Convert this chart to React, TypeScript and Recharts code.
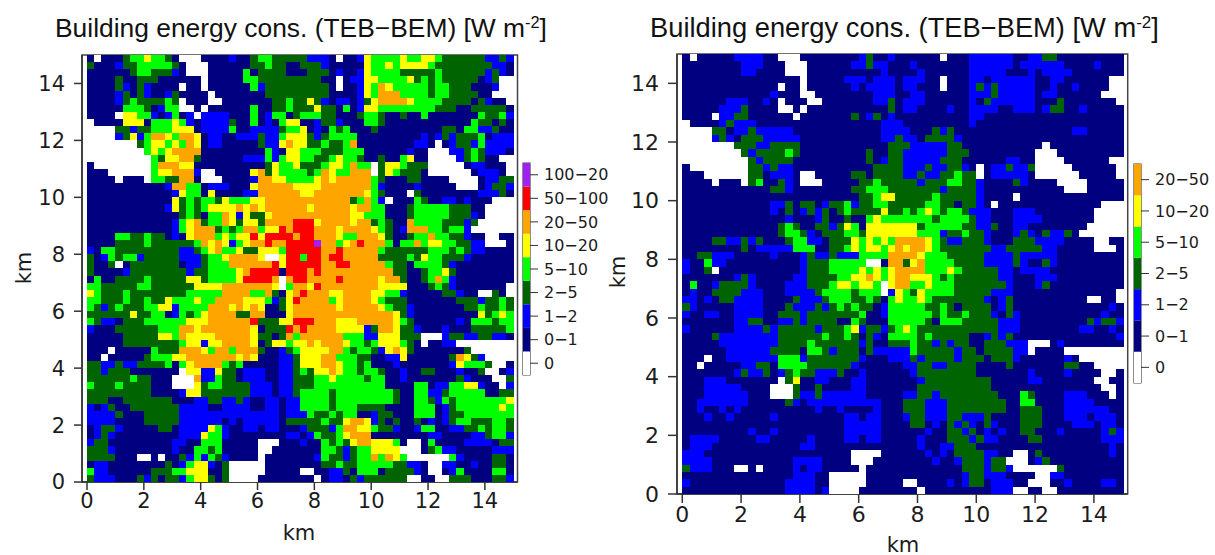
import React from "react";
import { ScatterChart, Scatter, XAxis, YAxis, ReferenceArea, BarChart, Bar } from "recharts";

// class index: 0 white, 1 navy, 2 blue, 3 dark green, 4 lime, 5 yellow, 6 orange, 7 red, 8 purple
const classColors = ["#ffffff", "#000080", "#0000ff", "#006400", "#00ff00", "#ffff00", "#ffa500", "#ff0000", "#a020f0"];
const classLabels = ["0", "0−1", "1−2", "2−5", "5−10", "10−20", "20−50", "50−100", "100−200"];
const axisTicks = [0, 2, 4, 6, 8, 10, 12, 14];

// Left panel, west half (columns 0-29), rows from top (15 km) to bottom (0 km)
const leftWest = [
"1 0 111 3 44 5 44 3 1 000 1111 2 11 3 44 3333",
"3 111 2 33 44444 3 1 000 111111 33 4 33 11",
"111111 3 44 333 2 1 000 11111 4 1 3333 11",
"1111 3 11 333 111111 0 11111 44 333333",
"1111 3 2 1 3 2 1111 0 11 0 111111 4 2 33333",
"1111 2 3 1 3 2 11 2 3 1111 0 1111111 33333",
"1111 2 3 4 3333 4 3 0 111 00 1111111 33 4 3",
"11111 444 3 1 2 44 00 1 0 111111 4 11 33 4 3",
"1111 0 55 44 2 1 2 4 1 2 0 2222 111 4 1 2 44 1 3",
"0 1111 555 1 444 5 4 2 1 2222 3 11 4 1 2 1 4 55",
"0000 33 2 33 444 555 1 2222 4 11 2222 3 44",
"0000 2 3 5 2 4 66 5 4 66 5 1 22 11 222 3 22 4 55",
"0000000 3 4 55 4 5 4 6 5 1 22 11111 3 22 5 6 5",
"00000000 4 5 4 5 6666 111111111 4 2 1 55",
"000000000 4 3 55 66 3 111111 222 4 2 4 55",
"1 00000000 4 666 55 1111111111 3 5 44 5",
"111 000000 4 55 666 2 00 11111 5 6 3 5 444",
"1111 0 111 0 44 33 66 1 000 1111 2 66 55 44",
"11111111111 2 66 44 1 222 111 5 66666 5",
"111111111111 2 5 44 1 5 1111 22 666666",
"111111111111 5 3 4 3 44 3 5 444 55 66666",
"11111111111 2 5 3 4 3 4 5555 6 5 6 5 66666",
"1111111111111 3 4 3 1 44 6 5 2 5 33 5 6666",
"111111111111 2 4 5 6 3 44 6 5 3 55 3 6666 7",
"111111111111 2 4 5 66 6 3 4 3 4 66 4 55 7 6 7",
"1111 44 33 4 33 1 2 1 5 666 4 5 4 55 7 5 7777 6",
"1111 3333 4 333333 4 6 5 6 5 2 4 5 66 7 66 77",
"2 1 44 333333333 22 3 4 5 6 44 5 33 55 5 4 77",
"3 1 2 4 3 44 2 33333 222 3 44 5 6666 5 00 5 77",
"3 11 3 0 1 3333333 1 22 3 444 666666 7 5 77",
"3 1111 2 33333333 2 33 4444 5 6 7777 1 77",
"1 4 11 3333 4 33333 55 3 4444 5 7777 6 0 6 7",
"44 33333 44 333333 5555 6666666 5 0 4 6",
"5 4 333 4 33333333 44444 6666 44 6 3 1 5 6",
"44 333 4 33 4 33 5 444 5 44 6666 555 4 2 3 5 7",
"4 3 2 3 4 333 44 55 2 4444 666 5 6 5 6 5 11 3 5 6",
"333333 5 33 44 1 2 4 3 4 5 6666 33 66 111 5 6",
"4 3 22 1 333 444444 555 666666 7 333 5 5 7",
"2 111 333333 444 66 5 6666666 5 1 33 3 7 6",
"11111 33333 55 4 6 5555 66666 5 33 1 3 6 4",
"11111 33333333 4 55 2 55 6666 5 1 3 55 4 5",
"111 0 11111 4 333 666 5 4 66 4 666 3 11 2 3 4",
"11 0 11111 3 444 55 6666666 5 6 5 111 22 3",
"33 22 3 22 3333 4 1 4 5 6666 4 3 4 11111 22 3",
"33 2 333 1111111 0 55 22 5 33 1 222 11 22 3",
"333333 4 33 111 000 6 22 4 33 1 222 11 22 3",
"4 333 4 3333 111 000 5 3 44 3333 222 1 22 3",
"333333333 1111 2 55 3333333 222 1 22 3",
"333 11 3333333 111 22 33 22 3 2 11 22 1 22",
"2 1 2 3 11 3333333 2222 11 2222 11 22 1 22",
"2222 3 111 33333 22222222222222 1 22",
"2222 1111 33333 222222 1 2 1 22222 1 33",
"1 2 33 2 11111 33 1 2222 5 4 2 11 22 1 22 111",
"1 2 3 2 111111111 222 5 44 2 11111111 22",
"2 33 111111111 22 11 444 11111 000 111",
"333 2 11111111 2 11 44 3 4 11111 00 1111",
"3333 111 00 1 0 11 3 2 4 2 4 3 2 1111 0 11111",
"1 22 11111111 3 1 2 4 55 2 1 3 00000 11111",
"4 22 111111 333 44 555 11 3 00000 11111",
"3 222 111 3 2 3 1 33 2 4 55 3 1 3 0000 111111",
];

// Left panel, east half (columns 30-59)
const leftEast = [
"3 222 1 0 11 2 5 4444 5 44 55 4 333333 22 3 2",
"333 2 11111 5 44 5 4 5555 4 33333333 22 1",
"1 333 1 2 11 2 5 4444 33333 4 333333 2 3 2 1",
"333 11 0 1 22 55 4444 5 3 4 3 4 33333 1 2 3 00",
"3333 1 0 11 2 5 4 6 5 44444 3 44 333 111 2 00",
"3333 1111 2 5 4 666 4444 3 44 3333 11 000",
"3 5 3 2 1 22 1 2 3 5 6666 5 4444 3333 1 3 2 11 0",
"33 5 33 1 4 1 2 55 44444444 333 11 33333 1",
"444 33 111 3 44 3 11 3 11 4 1111111 4 33 4 2",
"11 2 33 2 111 44 3 111111111111 4 33 1 3 1",
"5 1 2 1 4 3 4 111 3 111111111 33 1 44 22 3 11",
"5 3 2 3 4444 111111111 2 1 2 3 2 333 4 1 222",
"5 33 4 33 4 6 11111111 22 1 0 1 2 33 2 4 2222",
"444 333 444 111111 2 11 000 22 3 4 3 222 1",
"44 33 4 5 44 3 11 3 11 4 5 11 0000 2 3 4 3 11 00",
"333 4 55 4 6 44 0 3 55 4 333 00000 1 22 111 0",
"4 3 4 6 5 44 666 0 3 5 4 333 1 000000 1 222 1 0",
"44 5 6 5 66666 4 3 111 33 1111 0000 1 22 33",
"555 6666666 4 2 1111 2 11111 000 1 2 33 2",
"55 6666666 5 4 3 111 0 3 11111111 222 3 1",
"6666666 3 4 6 4 2 0 111 4 3 11 22 1 2 111 000",
"6 5 66666 5 66 44 111 3 44444 333 11 0000",
"6666666 55 444 111 3 44444 333 2 1 0000",
"77 5 6666 5 66 3 4 3 11 6 4444 333 2 3 00000",
"77 666 5 6666 5 4 3 1 2 666 44 3 44 2 000000",
"77 666 5 44 666 5 3 11 3 44 6 44 33 2 11 00 11",
"77 8 66 4 5 6 7 666 4 1 44 6 4 55 44 33 22 000 1",
"777 66 7 66666 4 333333 444 3 4 3 22 1111",
"4 77 6 77 66666 3333 4 3 5 44 333 2 111111",
"777 66 77 66666 4 33 1 4444 3 2 11111111",
"7 6 7 6666666666 33 11 3 44 5 3 11111111",
"7 6666 7 66666 5 66 3 11 3 4 6 4 2 11111111",
"6 5 7 66666666 5555 111 3 4 3 2 1111111 0",
"7 666 55 6666 55 44 2 11111 33 2 11 00 3 1 0",
"6666 4 5 6666 5 4 333 1111111 333 2 33 4 3",
"66666 5 66666 5 4 33 2 1111111 33 4 33 4 3",
"6666666666666 5 3 2 111111111 5 3 4 5 4",
"77 666 555 66666 5 4 3 111111 2 1 444 3 44",
"7 6666 5555 2 3 66 5 33 2 111 2 111 33333 4",
"666666 444 22 555 333 000 2 33 22 33 22 1",
"5 6 5 666 5 44 3 4 555 4 3 1 0 11 22 00000000",
"5555 66 4 3 44 3 2 5 6 5 3 1111111 3 000000",
"555 66 444 33 11 22 5 111111 3 6 5 3 2 0000",
"555 66 5 44 3 4 111 2 1111111 2 5 444 3 00 1",
"4 3 55 6 5 44 3 44 3 11 2 11 33 111 2 11 3 00 1 2",
"33 44 5 4444 3 44 11 2 1111111 3 2 111 00 3",
"33 4444444444 1111 44 1 22 44 55 2 11 0 2",
"4444 3 44444444 3 11 44 22 3 44444 11 33",
"4444 3 44444444 3 11 44 3 2 4 3 4444444 5",
"4444 3 444 3333 1111 444 1 2 3 444444 5 4",
"2 4 33 4 3 44 11 2 33 111 444 1 2 33 4444444",
"333 4 33 5 66 5 2 3 1 3 11 3 1 2 1 2 3 44 333 44 3",
"2 333 2 4 66 55 4 33 2 11 2 44 11 22 33 4 3 44 3",
"1 2 4 33 4 5 666 11111111 22 1111 22 3 44 2",
"2 11 4 3 4 3 5 66 555 4 1 00 1 4 1111 2222 1 33",
"111 44 3 2 3 44 5555 000 1 3 4 22 11111 222",
"11 2 4 33 2 3 44 6 4 6 5 4 000000 4 2 1111 33 1",
"111 33 4 33 44444 33 22 1 00 22 11 2 11 33 1",
"00 11 22 3 1 444 1 3333 2 1 00 1 2 4 1111 44 1",
"11 0 1 22 1 3 2 333333 00 11 00 333 111 33 2",
];

// Right panel, west half
const rightWest = [
"1 0 11111 2222 11 000 11111111 2 3 11 2 1",
"11111111 222 111 000 111111 22 3 22 11",
"11111111 22 1111 000 1111111111 2 11",
"1111111111111111 0 11111 222 1 222 1",
"1111111111111 0 11 0 111111 2 1 2222 1",
"111111111111 2 111 00 11111111 222 1",
"111111 222 11 2 1 0 111 00 1111111 22 3 1",
"11111 222 3 1111 00 1 0 11111111111 3 1",
"1111 0 22 33 111111 0 1111111 3 1 2 3 1 2 1",
"0 1111 2 3 222 11111111111111111 222",
"0000 33 1 22 3 22222 111111111111 222",
"0000 2 3 2 1 333 22222 11111111111 22 3",
"0000000 333 22 3333 111111111111 33",
"00000000 3 2 3333 4 3 111111111 3 11 33",
"000000000 3 2 3333 1111111111 3 1 2 33",
"1 00000000 33 2 3 22 11111111111 3333",
"111 000000 33 1 222 1 00 11111 33 1 3333",
"1111 0 111 0 3 4 11 3 2 1 000 11111 33 4 333",
"111111111111 33 2 11111111 33 444 33",
"111111111111111111111111 33 4 55 3",
"111111111111 22 3 1 33 1 2 33 4 2 33 44 33",
"111111111111 2 1 3 1 2 3 2 3 1 3 4 3333 5 33",
"11111111111111 2 111 2 3 11 3 11 4 5 444",
"1111111111111 3 4 3 11 33 2 3 5 4 1 55555",
"1111111111111 3 44 3 2 1 333 44 3 55555",
"1111 33 22 3 2 3 111 3 44 22 1 333 5 4 5 4 5 4 6",
"11111111 3 1 22222 444 11 33 4 5 4 55 4 5 6",
"11 33 222 11111 2 111 2 3 22 3 222 4444 66",
"2 11 4 22 1111111111 2 333 44444 00 1 66",
"2 11 3 0 11111111111 2 333 4444 5 4 5 4 5 6",
"1111111 2 3 2 11111 22 3333 44 55 6 5 4 5 6",
"1 4 11 2 3333 2 1111 222 333 4 55 4 55 4 0 5 6",
"1 2 11 3333 222 111 2222 3 4444 3 444 0 2 5",
"22 1 2 1 33 2222 1111 3 222 3 444 33 4 3 1 4 5",
"3 2 11111 2222 111 3 222 3 2 3 4 3 4 33 1 2 44",
"2 11 22 11 2222 11 333 2 3333333 4 11 2 44",
"1111111 22 33 11 22 3 2 3333 11 4 3 111 44",
"2 111111 2222 3 2 33333 2 333 4 5 2 33 2 3 4",
"1111 3 22222222 333333 4 33 4 3 1 3 2 1 44",
"11111 22222222 3333 4 333333 2 3 11 33",
"111111 222222 3333 1 44 3 2 333 1 3 2222",
"111 0 11 2222222 444 2 3333333 2 111 22",
"11 0 11111 22 33 1 4444 333333 2 111111",
"1111111 2 3 22 3 1 2 3 4 33 222 3 11 2 11111",
"111 222 1111111 0 3 5 11 22 111 22 11111",
"111 22222 1111 000 3 11 3 1111 22 11111",
"111 222222 111 000 3 22 3 222222 11111",
"11 2222222 11111 3 2 1 2222222222 111",
"11 2 11 2 1 2 1111111111 2 11 2 1111 2 111",
"111 2 11 2 11111 2 111111111 22 1 22 111",
"1111111111111111111111 22222 111",
"111111111 2 11 2 111111111 22222 111",
"1 2222 11111 22 11111 2 1111 22 1 22 111",
"1 222 111111111111 22 111111111111",
"222 11111111111111111111 0000 111",
"2222 11111111111 2222 1111 000 1111",
"3 222 111 00 1 0 1111 2 1 22 11111 0 11111",
"111111111111111 222 11 00000 11111",
"2 1111111111111 2222 11 00000 11111",
"11111111111111 2222 1 2 0000 111111",
];

// Right panel, east half
const rightEast = [
"11111 0 111 222222 11 22 33 111111111",
"1 2 1111111 222222 1 222222 1111 2 111",
"11 2 111111 22222 111 2 1 2222 1111111",
"222 11 0 111 22 1 222222 11 22 111111 00",
"22 111 0 111 2 3 2 3 22222 11 2 11 2 1111 00",
"1 22 111111 222 3 22222 1 22 111111 000",
"222 111111 2 1 3 222222 111 3 1111111 0",
"22 1111 2 11 2222 11 222 1 2 33 11 2 11111",
"111111111 22 1111111111111111111",
"111111111 2 11111111111111111111",
"2 111 3 2 3 1111111111111111 22 11111",
"22 1 3333 2 1111111111111111111111",
"3 22222 33 11111111111 0 1111111111",
"222222 333 111111111 000 111111111",
"22222 333 111111 22 11 0000 111111 00",
"222 3 22 33 2 1 0 1 22 3 22 3 00000 111111 0",
"22 3 22 33 4 33 0 1 22222 1 000000 11111 0",
"33 2 333 44 33 2 1111 3 2 1111 0000 11111",
"33333 2 3333 2 11111111111 000 11111",
"3333 4 33333 2 1111 0 11111111111111",
"333 44 33 1 33 2 1 0 11111111111111 000",
"4 3 4 5 4 3 44 3 222 111 222 11111111 0000",
"4444 3 4444 3 22 111 2222 1111111 0000",
"55 3 44444 33 22 3 11 22 11111111 00000",
"55 444 2 33 4 33 2 111 2 3 2 1 3 22 3 1 000000",
"666 5 4 3 22 333 2 111 333 2222 1111 00 11",
"5 66 5 4 3333333 22 33333 22 11111 000 1",
"66 5 444 33333 2222 3 22222 111111111",
"3 5 6 4444 3333 2222 3 2 11 3 2 111111111",
"666 444 5 4 33333 22 1 2222 1111111111",
"6 555 4 3 4 333333 22 111 222 111111111",
"6 44 5 444 3333333 2 111 2 3 1111111111",
"4 3 5 4444 33333 222 11111111111111 0",
"44 5 4 3333333 2 1 2 3 1111111111 00 11 0",
"444 33 4 3 1 3333 1 2 3 1111111111111 2 1",
"4444 3 4 33 4 333 2 1 3 2 11111111111 2 11",
"444 3 1 444 33333 222 111111111 3 2 33 2",
"5 4 33333333333 222 11111111 22 11 2 1",
"44 3 4 33333 11 2 3 2 3 11111111111111 2",
"3 4 33 2 3 2 33 11 333 222 000 1 2 11111111",
"2 4 33333 2 33 1 3333 22 0 1111 00000000",
"2 3 2 3333 2 333 1 333 2 111111 2 1 000000",
"22 33 22 3333 1111 3 1111111 33 11 0000",
"1 2 33333333 1111111 2 1111 2 1111 00 1",
"11 2 333333333 11111 22 1111111 00 11",
"11 3333333333 111111111111111 00 1",
"22 33 2 33333333 111 4 3 1111 222 111 0 1",
"333 222 33333333 11 44 1111 2222 1111",
"333 222 33333333 11 333 111 222222 11",
"2 33 222 33 222 3 1111 333 111 222 1 222 1",
"1 33 1 2 1 3 2 3 2 1 3 2 111 333 1111 222 1 22 1",
"111 2 11 33 2 3 1 2 1 2 11 33 111 2 11111 2 3 2",
"11 2 111 333 2 3 22 1111 33 11111111 222",
"11 2 11 22 333 111111111111111111 2 1",
"111 2 1 2 1 3333 22 11 00 1 3 111111111 2 1",
"1111 2 11 2 333 2 33 000 1 2 3 1111111111",
"11111111 333 2 33 2 000000 3 11111111",
"11111111 2 33 222 1111 00 22 11111111",
"00 1111 2 1 2 33 1 222 11 000 11 2 1111 22 1",
"11 0 111111111 222 00 11 00 111111111",
];

type Cell = { x: number; y: number; v: number };

function half(s: string): string {
  return s.replace(/\s/g, "").slice(0, 30).padEnd(30, "1");
}

function buildCells(west: string[], east: string[]): Cell[] {
  const out: Cell[] = [];
  west.forEach((w, r) => {
    const row = half(w) + half(east[r]);
    for (let c = 0; c < 60; c++) {
      out.push({ x: (c + 0.5) * 0.25, y: 15 - (r + 0.5) * 0.25, v: Number(row[c]) });
    }
  });
  return out;
}

const FONT = "'DejaVu Sans', sans-serif";
const INK = "#1c1c1c";

type PanelProps = {
  cells: Cell[];
  left: number;
  top: number;
  right: number;
  bottom: number;
  xMin: number;
  xMax: number;
  pxPerKmX: number;
  pxPerKmY: number;
  fontSize: number;
  tickSize: number;
  wrapLeft: number;
  wrapWidth: number;
};

function HeatPanel(p: PanelProps) {
  const yAxisW = 50;
  const xAxisH = 40;
  const h = 555;
  const w = p.wrapWidth;
  const cw = p.pxPerKmX / 4;
  const ch = p.pxPerKmY / 4;
  const shape = (s: any) => (
    <rect
      x={s.cx - cw / 2}
      y={s.cy - ch / 2}
      width={cw + 0.3}
      height={ch + 0.3}
      fill={classColors[s.payload.v]}
      shapeRendering="crispEdges"
    />
  );
  const tick = { fontFamily: FONT, fontSize: p.fontSize, fill: INK };
  return (
    <div style={{ position: "absolute", left: p.wrapLeft, top: 0 }}>
      <ScatterChart
        width={w}
        height={h}
        margin={{
          top: p.top,
          left: p.left - p.wrapLeft - yAxisW,
          right: w - (p.right - p.wrapLeft),
          bottom: h - p.bottom - xAxisH,
        }}
      >
        <XAxis
          type="number"
          dataKey="x"
          domain={[p.xMin, p.xMax]}
          ticks={axisTicks}
          interval={0}
          allowDataOverflow
          height={xAxisH}
          tickSize={p.tickSize}
          tickMargin={3}
          tick={tick}
          stroke="#333333"
          strokeWidth={1.5}
        />
        <YAxis
          type="number"
          dataKey="y"
          domain={[0, 15]}
          ticks={axisTicks}
          interval={0}
          allowDataOverflow
          width={yAxisW}
          tickSize={p.tickSize}
          tickMargin={9}
          tick={tick}
          stroke="#333333"
          strokeWidth={1.5}
        />
        <Scatter data={p.cells} isAnimationActive={false} shape={shape} />
        <ReferenceArea
          x1={p.xMin}
          x2={p.xMax}
          y1={0}
          y2={15}
          fill="none"
          stroke="#444444"
          strokeWidth={1.5}
          ifOverflow="visible"
        />
      </ScatterChart>
    </div>
  );
}

type BarProps = { n: number; left: number; width: number; top: number; bottom: number; barW: number; fontSize: number };

function ColorBar({ n, left, width, top, bottom, barW, fontSize }: BarProps) {
  const row: Record<string, number | string> = { name: "c" };
  const keys = classColors.slice(0, n).map((_, i) => "k" + i);
  keys.forEach((k) => (row[k] = 1));
  const ticks = keys.map((_, i) => i + 0.5);
  const h = 555;
  const pad = 2;
  return (
    <div style={{ position: "absolute", left: left - pad, top: 0, width: width + pad, height: h, overflow: "hidden" }}>
      <BarChart
        width={width + pad}
        height={h}
        data={[row]}
        barCategoryGap={0}
        margin={{ top, bottom: h - bottom, left: pad, right: 0 }}
      >
        <XAxis dataKey="name" hide />
        <YAxis
          type="number"
          orientation="right"
          domain={[0, n]}
          ticks={ticks}
          interval={0}
          width={width - barW}
          tickSize={8}
          tickMargin={6}
          axisLine={false}
          stroke="#333333"
          tick={{ fontFamily: FONT, fontSize, fill: INK, textAnchor: "start" }}
          tickFormatter={(v: number) => classLabels[Math.floor(v)]}
        />
        {keys.map((k, i) => (
          <Bar key={k} dataKey={k} stackId="s" fill={classColors[i]} isAnimationActive={false} />
        ))}
        <ReferenceArea y1={0} y2={n} fill="none" stroke="#444444" strokeWidth={1.2} ifOverflow="visible" />
      </BarChart>
    </div>
  );
}

const leftCells = buildCells(leftWest, leftEast);
const rightCells = buildCells(rightWest, rightEast);

const titleMain = "Building energy cons. (TEB−BEM) [W m";

function Title({ x, y, size }: { x: number; y: number; size: number }) {
  return (
    <text x={x} y={y} fontFamily="'Liberation Sans', sans-serif" fontSize={size} fill="#111111">
      {titleMain}
      <tspan fontSize={size * 0.62} dy={-size * 0.34}>-2</tspan>
      <tspan dy={size * 0.34}>]</tspan>
    </text>
  );
}

export default function App() {
  return (
    <div style={{ position: "absolute", left: 0, top: 0, width: 1215, height: 555, background: "#fff", overflow: "hidden" }}>
      <HeatPanel
        cells={leftCells}
        wrapLeft={0}
        wrapWidth={520}
        left={82}
        right={517.5}
        top={55}
        bottom={482}
        xMin={-0.176}
        xMax={15.148}
        pxPerKmX={28.42}
        pxPerKmY={28.47}
        fontSize={21}
        tickSize={8}
      />
      <HeatPanel
        cells={rightCells}
        wrapLeft={610}
        wrapWidth={520}
        left={677}
        right={1127.7}
        top={54}
        bottom={494}
        xMin={-0.18}
        xMax={15.15}
        pxPerKmX={29.4}
        pxPerKmY={29.33}
        fontSize={22}
        tickSize={9}
      />
      <ColorBar n={9} left={523} width={86} top={163} bottom={375} barW={7} fontSize={16} />
      <ColorBar n={7} left={1134} width={76} top={164} bottom={383} barW={7} fontSize={16} />
      <svg width={1215} height={555} style={{ position: "absolute", left: 0, top: 0, pointerEvents: "none" }}>
        <Title x={55} y={37} size={26.4} />
        <Title x={650} y={37} size={27.3} />
        <text x={299} y={540} textAnchor="middle" fontFamily={FONT} fontSize={21} fill={INK}>km</text>
        <text x={903} y={552} textAnchor="middle" fontFamily={FONT} fontSize={21} fill={INK}>km</text>
        <text transform="translate(31,268) rotate(-90)" textAnchor="middle" fontFamily={FONT} fontSize={21} fill={INK}>km</text>
        <text transform="translate(625,272) rotate(-90)" textAnchor="middle" fontFamily={FONT} fontSize={21} fill={INK}>km</text>
      </svg>
    </div>
  );
}
